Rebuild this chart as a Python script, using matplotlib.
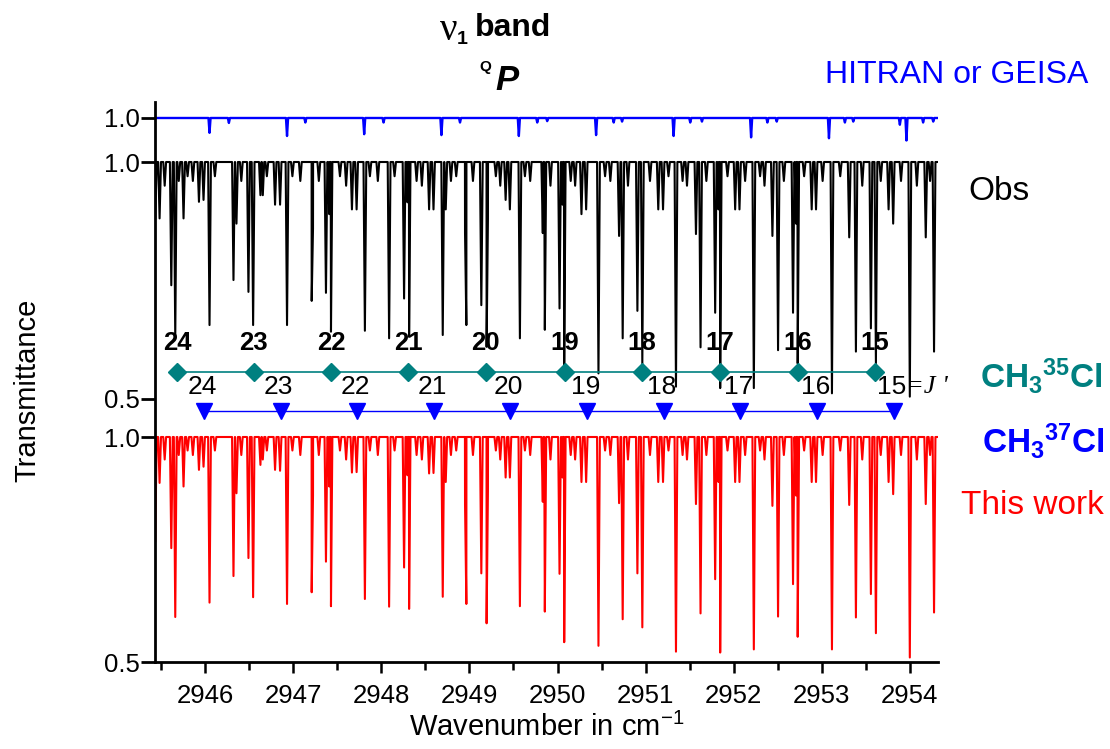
import numpy as np
import matplotlib
matplotlib.use("Agg")
import matplotlib.pyplot as plt

plt.rcParams['font.family'] = ['Liberation Sans', 'DejaVu Sans']
plt.rcParams['mathtext.fontset'] = 'custom'
plt.rcParams['mathtext.rm'] = 'Liberation Sans'
plt.rcParams['mathtext.it'] = 'Liberation Sans:italic'
plt.rcParams['mathtext.bf'] = 'Liberation Sans:bold'

# ---------------- data ----------------
# strong / medium line positions (cm-1)
line_pos = [2945.433, 2945.482, 2945.615, 2945.660, 2945.754, 2945.929, 2945.981, 2946.049,
            2946.321, 2946.355, 2946.491, 2946.544, 2946.627, 2946.654, 2946.793, 2946.850,
            2946.929, 2947.209, 2947.224, 2947.371, 2947.409, 2947.428, 2947.666, 2947.719,
            2947.813, 2948.088, 2948.258, 2948.297, 2948.315, 2948.542, 2948.592, 2948.697,
            2948.731, 2948.950, 2948.965, 2949.135, 2949.195, 2949.210, 2949.411, 2949.459,
            2949.573, 2949.833, 2949.856, 2950.023, 2950.057, 2950.076, 2950.272, 2950.325,
            2950.465, 2950.699, 2950.740, 2950.907, 2950.963, 2951.144, 2951.198, 2951.345,
            2951.572, 2951.624, 2951.790, 2951.828, 2951.847, 2952.017, 2952.066, 2952.229,
            2952.440, 2952.504, 2952.674, 2952.708, 2952.727, 2952.886, 2952.935, 2953.116,
            2953.312, 2953.388, 2953.558, 2953.615, 2953.759, 2953.811, 2954.000, 2954.181,
            2954.275]
# calculated transmittance (This work, red)
calc_T = [0.767, 0.898, 0.753, 0.600, 0.890, 0.927, 0.934, 0.632,
          0.691, 0.875, 0.731, 0.644, 0.938, 0.950, 0.927, 0.925,
          0.629, 0.655, 0.871, 0.723, 0.890, 0.624, 0.921, 0.922,
          0.640, 0.623, 0.710, 0.915, 0.618, 0.919, 0.920, 0.645,
          0.900, 0.850, 0.629, 0.697, 0.586, 0.880, 0.910, 0.910,
          0.624, 0.856, 0.612, 0.696, 0.910, 0.544, 0.900, 0.900,
          0.536, 0.853, 0.595, 0.697, 0.577, 0.900, 0.900, 0.523,
          0.851, 0.608, 0.684, 0.900, 0.521, 0.900, 0.900, 0.528,
          0.847, 0.601, 0.673, 0.870, 0.556, 0.900, 0.900, 0.528,
          0.849, 0.599, 0.651, 0.564, 0.900, 0.873, 0.510, 0.851,
          0.610]
# observed transmittance (Obs, black)
obs_T = [0.880, 0.881, 0.740, 0.630, 0.881, 0.916, 0.920, 0.656,
         0.751, 0.870, 0.726, 0.656, 0.930, 0.930, 0.910, 0.910,
         0.656, 0.707, 0.860, 0.724, 0.890, 0.642, 0.900, 0.900,
         0.644, 0.628, 0.712, 0.915, 0.631, 0.900, 0.900, 0.635,
         0.900, 0.850, 0.656, 0.698, 0.610, 0.880, 0.920, 0.900,
         0.628, 0.850, 0.646, 0.691, 0.910, 0.561, 0.890, 0.900,
         0.554, 0.844, 0.628, 0.686, 0.575, 0.900, 0.900, 0.526,
         0.848, 0.609, 0.682, 0.900, 0.523, 0.900, 0.900, 0.523,
         0.844, 0.603, 0.682, 0.870, 0.575, 0.900, 0.900, 0.512,
         0.841, 0.600, 0.649, 0.575, 0.900, 0.870, 0.505, 0.841,
         0.600]
# weak lines near the baseline (shared by both traces)
weak_pos = [2945.54, 2945.70, 2945.80, 2945.86, 2946.11, 2946.41, 2946.70, 2946.99,
            2947.08, 2947.29, 2947.53, 2947.60, 2947.87, 2947.96, 2948.15, 2948.40,
            2948.46, 2948.79, 2948.85, 2949.04, 2949.30, 2949.35, 2949.63, 2949.69,
            2949.92, 2950.15, 2950.20, 2950.54, 2950.60, 2950.80, 2951.05, 2951.26,
            2951.42, 2951.47, 2951.69, 2951.93, 2952.13, 2952.30, 2952.35, 2952.57,
            2952.80, 2953.01, 2953.21, 2953.46, 2953.67, 2953.90, 2954.08, 2954.23]
weak_T = [0.95, 0.96, 0.97, 0.96, 0.97, 0.96, 0.97, 0.97,
          0.96, 0.96, 0.97, 0.95, 0.97, 0.96, 0.97, 0.96,
          0.95, 0.96, 0.97, 0.96, 0.97, 0.95, 0.97, 0.96,
          0.95, 0.96, 0.95, 0.97, 0.96, 0.95, 0.96, 0.97,
          0.96, 0.95, 0.96, 0.97, 0.96, 0.97, 0.95, 0.96,
          0.97, 0.96, 0.97, 0.95, 0.96, 0.96, 0.95, 0.96]
# HITRAN / GEISA (blue)
hitran_pos = [2946.049, 2946.269, 2946.929, 2947.137, 2947.805, 2948.025, 2948.682, 2948.893,
              2949.561, 2949.770, 2949.883, 2950.438, 2950.638, 2950.733, 2951.318, 2951.507,
              2951.640, 2952.198, 2952.383, 2952.489, 2953.082, 2953.263, 2953.358, 2953.887,
              2953.962, 2954.151, 2954.266]
hitran_T = [0.967, 0.989, 0.960, 0.990, 0.964, 0.990, 0.962, 0.990,
            0.960, 0.990, 0.993, 0.962, 0.990, 0.992, 0.960, 0.990,
            0.992, 0.957, 0.990, 0.992, 0.955, 0.990, 0.992, 0.985,
            0.950, 0.990, 0.992]
# J' assignments
j_values = [24, 23, 22, 21, 20, 19, 18, 17, 16, 15]
ch3_35_pos = [2945.683, 2946.552, 2947.428, 2948.308, 2949.184,
              2950.083, 2950.960, 2951.847, 2952.727, 2953.603]
ch3_37_pos = [2945.985, 2946.855, 2947.726, 2948.596, 2949.466,
              2950.337, 2951.207, 2952.077, 2952.948, 2953.818]
x_ticks = [2946, 2947, 2948, 2949, 2950, 2951, 2952, 2953, 2954]

# ---------------- layout ----------------
W, H = 1110, 749
fig = plt.figure(figsize=(W / 100, H / 100), dpi=100)
ax_l, ax_r, ax_b, ax_t = 155, 938, 662, 102
ax = fig.add_axes([ax_l / W, 1 - ax_b / H, (ax_r - ax_l) / W, (ax_b - ax_t) / H])
XMIN, XMAX = 2945.43, 2954.32
YMIN = 0.5
YMAX = YMIN + (ax_b - ax_t) / 450.0

# offsets of the stacked traces (in plot units)
red_off, red_scale = 1.0, 1.0
blk_off, blk_scale = 1.6111, 1.0533
blu_off, blu_scale = 1.7089, 1.0


def spectrum(pos, depth, hw=0.016):
    pts = [(XMIN - 0.05, 1.0), (XMAX + 0.05, 1.0)]
    for p, d in zip(pos, depth):
        pts += [(p - hw, 1.0), (p, d), (p + hw, 1.0)]
    pts.sort(key=lambda t: t[0])
    xs = np.array([t[0] for t in pts])
    ys = np.array([t[1] for t in pts])
    return xs, ys


all_pos = line_pos + weak_pos
xr, yr = spectrum(all_pos, calc_T + weak_T)
xb, yb = spectrum(all_pos, obs_T + weak_T)
xh, yh = spectrum(hitran_pos, hitran_T, hw=0.012)

ax.plot(xh, blu_off + blu_scale * (yh - 1.0), color='#0000ff', lw=1.7, zorder=2)
ax.plot(xb, blk_off + blk_scale * (yb - 1.0), color='black', lw=1.5, zorder=2)
ax.plot(xr, red_off + red_scale * (yr - 1.0), color='#ff0000', lw=1.5, zorder=2)

# assignment markers
y_dia = 1.1444
y_tri = 1.0578
ax.plot(ch3_35_pos, [y_dia] * len(ch3_35_pos), color='#008080', lw=1.2,
        marker='D', ms=9, mfc='#008080', mec='#008080', zorder=3)
ax.plot(ch3_37_pos, [y_tri] * len(ch3_37_pos), color='#0000ff', lw=1.0,
        marker='v', ms=11, mfc='#0000ff', mec='#0000ff', zorder=3)
for j, p in zip(j_values, ch3_35_pos):
    ax.text(p, 1.2082, str(j), ha='center', va='center', fontsize=18.5,
            fontweight='bold', color='black', zorder=4)
for j, p in zip(j_values, ch3_37_pos):
    ax.text(p - 0.02, 1.1118, str(j), ha='center', va='center', fontsize=19,
            color='black', zorder=4)
ax.text(ch3_37_pos[-1] + 0.14, 1.1118, "=J '", ha='left', va='center', fontsize=19,
        family='Liberation Serif', style='italic', zorder=4)

# axes styling
ax.set_xlim(XMIN, XMAX)
ax.set_ylim(YMIN, YMAX)
for s in ['top', 'right']:
    ax.spines[s].set_visible(False)
for s in ['left', 'bottom']:
    ax.spines[s].set_linewidth(2.0)
ax.set_xticks(x_ticks)
ax.set_xticklabels([str(t) for t in x_ticks])
ax.set_xticks(np.arange(2945.5, 2954.3, 1.0), minor=True)
ax.tick_params(axis='x', which='major', direction='out', length=8, width=1.8,
               labelsize=18.5, pad=8)
ax.tick_params(axis='x', which='minor', direction='out', length=6, width=1.8)
ytick_pos = [0.5, 1.0, blk_off - 0.5 * blk_scale, blk_off, blu_off]
ax.set_yticks(ytick_pos)
ax.set_yticklabels(['0.5', '1.0', '0.5', '1.0', '1.0'])
ax.tick_params(axis='y', which='major', direction='out', length=10, width=2.0,
               labelsize=18.5, pad=1)
ax.set_xlabel('Wavenumber in cm$^{-1}$', fontsize=21, labelpad=3)
fig.text(27 / W, 1 - 390 / H, 'Transmittance', rotation=90, ha='center', va='center',
         fontsize=21)

# titles / legends
fig.text(449 / W, 1 - 30 / H, 'ν', ha='center', va='center', fontsize=28,
         family='Liberation Serif')
fig.text(462 / W, 1 - 40 / H, '1', ha='center', va='center', fontsize=14,
         fontweight='bold')
fig.text(513 / W, 1 - 28 / H, 'band', ha='center', va='center', fontsize=23,
         fontweight='bold')
fig.text(485 / W, 1 - 67 / H, 'Q', ha='center', va='center', fontsize=11,
         fontweight='bold')
fig.text(507 / W, 1 - 80 / H, 'P', ha='center', va='center', fontsize=25,
         fontweight='bold', style='italic')
fig.text(957 / W, 1 - 75 / H, 'HITRAN or GEISA', ha='center', va='center',
         fontsize=23, color='#0000ff')
fig.text(999 / W, 1 - 192 / H, 'Obs', ha='center', va='center', fontsize=24,
         color='black')
fig.text(1041 / W, 1 - 376 / H, r'$\mathbf{CH_3{}^{35}Cl}$', ha='center', va='center',
         fontsize=24, color='#008080')
fig.text(1043 / W, 1 - 441 / H, r'$\mathbf{CH_3{}^{37}Cl}$', ha='center', va='center',
         fontsize=24, color='#0000ff')
fig.text(1032 / W, 1 - 505 / H, 'This work', ha='center', va='center', fontsize=24,
         color='#ff0000')

fig.savefig('out.png', dpi=100)
